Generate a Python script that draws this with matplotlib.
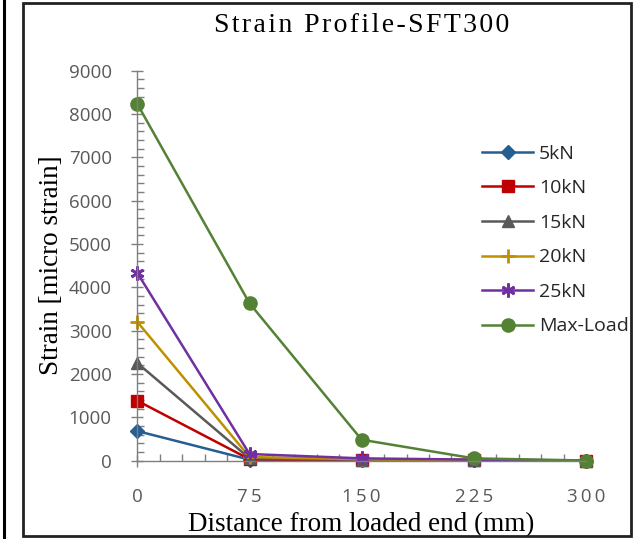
import numpy as np
from matplotlib import pyplot as plt
from matplotlib.lines import Line2D
from matplotlib.patches import Rectangle
from matplotlib.ticker import MultipleLocator

# data
distance = [0, 75, 150, 225, 300]
load_5kN = [680, 20, 10, 5, 0]
load_10kN = [1380, 30, 15, 10, 0]
load_15kN = [2250, 50, 20, 10, 0]
load_20kN = [3200, 80, 30, 10, 0]
load_25kN = [4330, 150, 50, 20, 0]
load_max = [8230, 3630, 480, 50, 0]
x_ticklabels = ['0', '7\u20095', '1\u20095\u20090', '2\u20092\u20095', '3\u20090\u20090']
title = 'Strain Profile-SFT300'

series = [
    ('5kN', load_5kN, '#255E91', 'D', 7),
    ('10kN', load_10kN, '#C00000', 's', 9),
    ('15kN', load_15kN, '#595959', '^', 8),
    ('20kN', load_20kN, '#BF9000', '+', 10),
    ('25kN', load_25kN, '#7030A0', (6, 2, 0), 10),
    ('Max-Load', load_max, '#548235', 'o', 9.5),
]

fig = plt.figure(figsize=(6.33, 5.39), dpi=100)
ax = fig.add_axes([0.217, 0.1456, 0.7087, 0.7232])

for name, vals, col, mk, ms in series:
    ax.plot(distance, vals, color=col, lw=1.8, marker=mk, ms=ms,
            mew=2 if mk in ('+', (6, 2, 0)) else 1, label=name, clip_on=False)

ax.set_xlim(0, 300)
ax.set_ylim(0, 9000)
ax.set_xticks(distance)
ax.set_xticklabels(x_ticklabels)
ax.xaxis.set_minor_locator(MultipleLocator(15))
ax.yaxis.set_major_locator(MultipleLocator(1000))
ax.yaxis.set_minor_locator(MultipleLocator(200))

for s in ['top', 'right']:
    ax.spines[s].set_visible(False)
for s in ['left', 'bottom']:
    ax.spines[s].set_color('#7f7f7f')
    ax.spines[s].set_linewidth(1.0)

ax.tick_params(which='major', direction='inout', length=9, width=1, color='#7f7f7f',
               labelsize=13.5, labelcolor='#595959')
ax.tick_params(axis='y', which='major', pad=14)
ax.tick_params(axis='x', which='major', pad=15)
ax.tick_params(which='minor', direction='in', length=5, width=1, color='#7f7f7f')
for lab in ax.get_xticklabels() + ax.get_yticklabels():
    lab.set_family(['Open Sans', 'DejaVu Sans'])

# wide letter spacing of the title
ax.set_title('\u200a'.join(title), family=['Liberation Serif', 'DejaVu Serif'],
             fontsize=20, pad=28)
ax.set_xlabel('Distance from loaded end (mm)', family='Liberation Serif', fontsize=19.5, labelpad=5)
ax.set_ylabel('Strain [micro strain]', family='Liberation Serif', fontsize=19.5, labelpad=3)

leg = ax.legend(loc='upper left', bbox_to_anchor=(0.752, 0.83), frameon=False,
                prop={'family': 'Open Sans', 'size': 14}, handlelength=2.6,
                labelspacing=0.85, handletextpad=0.3, borderaxespad=0)
for t in leg.get_texts():
    t.set_color('#262626')

# outer frames
fig.add_artist(Line2D([4 / 633, 4 / 633], [0, 1], color='black', lw=2.2))
fig.add_artist(Rectangle((23.5 / 633, 3 / 539), (631 - 23.5) / 633, (536 - 3) / 539,
                         fill=False, edgecolor='#222222', lw=2, transform=fig.transFigure))

fig.savefig('out.png', dpi=100)
